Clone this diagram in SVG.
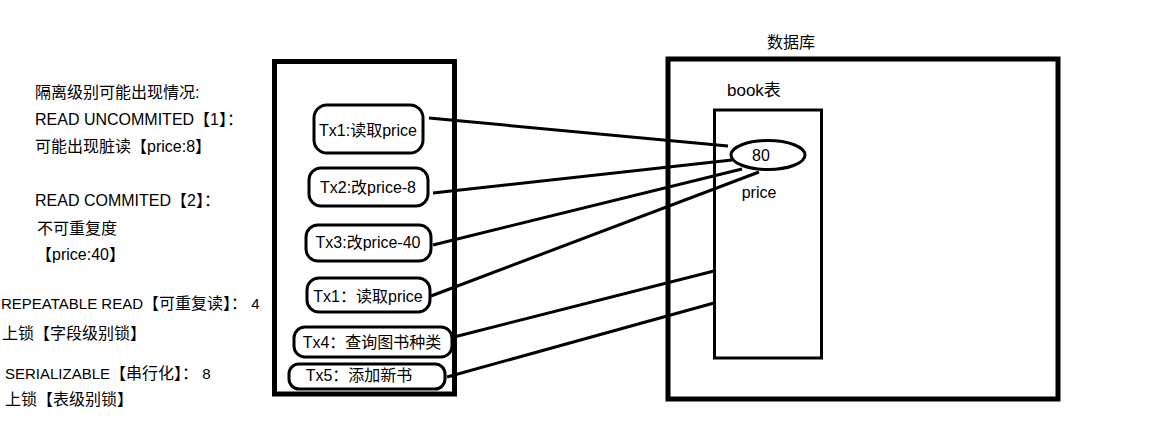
<svg xmlns="http://www.w3.org/2000/svg" width="1157" height="444" viewBox="0 0 1157 444">
<style>
text{font-family:"Liberation Sans","Noto Sans CJK SC",sans-serif;fill:#000}
.lt{font-size:16px}
.lt tspan.l{font-size:15px}
.tx{font-size:16px;text-anchor:middle}
.box{fill:#fff;stroke:#000;stroke-width:5}
.tb{fill:#fff;stroke:#000;stroke-width:3}
.pill{fill:#fff;stroke:#000;stroke-width:3}
.conn line{stroke:#000;stroke-width:3;stroke-linecap:butt}
</style>
<rect width="1157" height="444" fill="#fff"/>
<g id="notes">
<text class="lt" x="35" y="98">隔离级别可能出现情况:</text>
<text class="lt" x="35" y="125">READ UNCOMMITED【1】：</text>
<text class="lt" x="35" y="152">可能出现脏读【price:8】</text>
<text class="lt" x="35" y="206">READ COMMITED【2】：</text>
<text class="lt" x="37" y="234">不可重复度</text>
<text class="lt" x="36" y="260">【price:40】</text>
<text class="lt" x="1" y="309"><tspan class="l">REPEATABLE READ</tspan>【可重复读】：<tspan class="l"> 4</tspan></text>
<text class="lt" x="2" y="339">上锁【字段级别锁】</text>
<text class="lt" x="5" y="379"><tspan class="l">SERIALIZABLE</tspan>【串行化】：<tspan class="l"> 8</tspan></text>
<text class="lt" x="5" y="405">上锁【表级别锁】</text>
</g>
<g id="app">
<rect class="box" x="274.5" y="61.5" width="180" height="332.5"/>
</g>
<g id="db">
<text x="767" y="48" style="font-size:16px">数据库</text>
<rect class="box" x="668" y="59" width="390" height="340"/>
</g>
<g id="book">
<text x="727" y="96" style="font-size:17px">book表</text>
<rect class="tb" x="714.5" y="110" width="107" height="248"/>
</g>
<g id="price">
<ellipse cx="768" cy="155" rx="37" ry="14.5" fill="#fff" stroke="#000" stroke-width="3"/>
<text x="761" y="161" style="font-size:16px;text-anchor:middle">80</text>
<text x="759" y="198" style="font-size:16px;text-anchor:middle">price</text>
</g>
<g id="tx1">
<rect class="pill" x="314" y="105" width="109" height="48" rx="13"/>
<text class="tx" x="368" y="136">Tx1:读取price</text>
</g>
<g id="tx2">
<rect class="pill" x="309" y="168" width="119" height="38" rx="12"/>
<text class="tx" x="368" y="193">Tx2:改price-8</text>
</g>
<g id="tx3">
<rect class="pill" x="306" y="225" width="125" height="36" rx="12"/>
<text class="tx" x="368" y="248">Tx3:改price-40</text>
</g>
<g id="tx1b">
<rect class="pill" x="307" y="278" width="123" height="34" rx="12"/>
<text class="tx" x="368" y="302">Tx1：读取price</text>
</g>
<g id="tx4">
<rect class="pill" x="294" y="327" width="158" height="30" rx="11"/>
<text class="tx" x="372" y="348">Tx4：查询图书种类</text>
</g>
<g id="tx5">
<rect class="pill" x="289" y="364" width="156" height="25" rx="10"/>
<text class="tx" x="359" y="381">Tx5：添加新书</text>
</g>
<g id="connectors" class="conn">
<line x1="429" y1="118" x2="728" y2="146"/>
<line x1="433" y1="193" x2="732" y2="160"/>
<line x1="433" y1="245" x2="742" y2="169"/>
<line x1="431" y1="296" x2="759" y2="172"/>
<line x1="454" y1="337" x2="714" y2="271"/>
<line x1="447" y1="377" x2="714" y2="303"/>
</g>
</svg>
